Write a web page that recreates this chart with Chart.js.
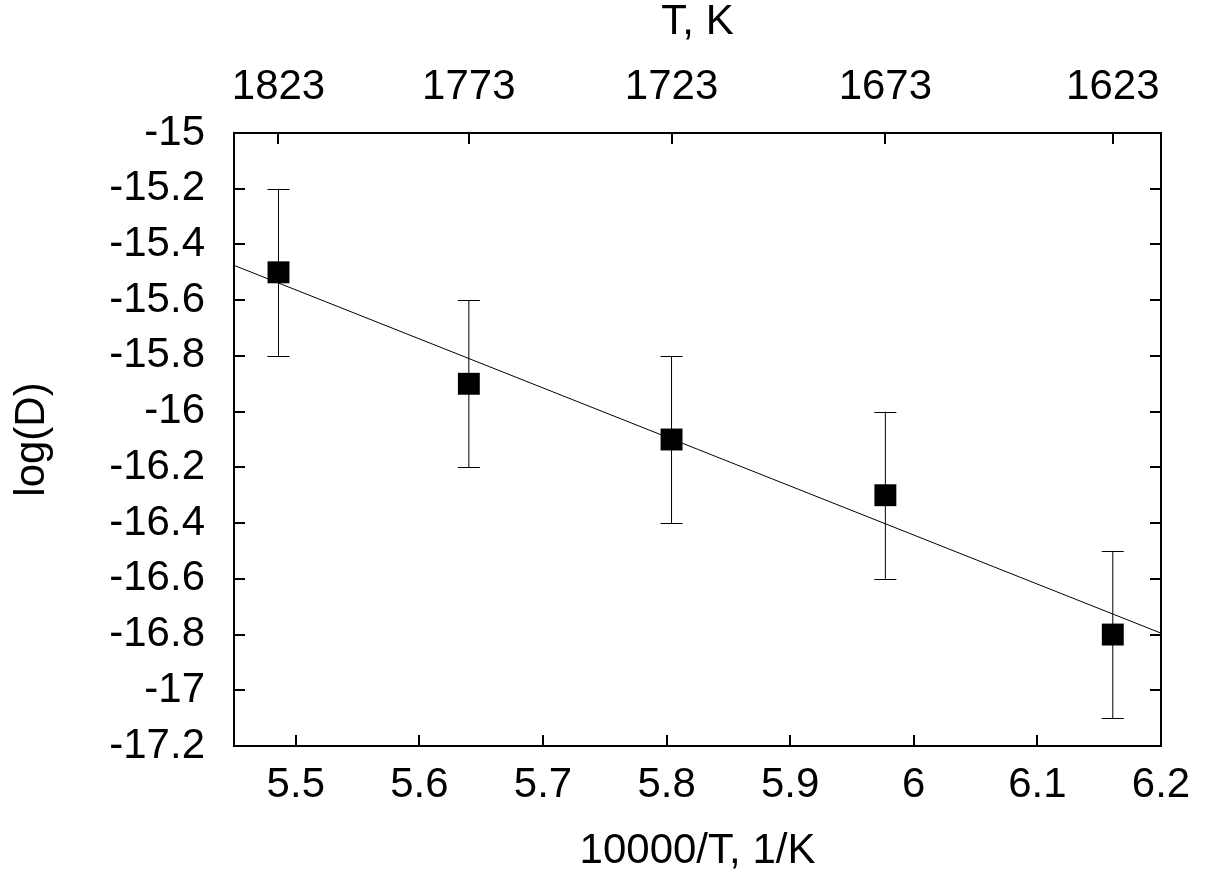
<!DOCTYPE html>
<html>
<head>
<meta charset="utf-8">
<script src="https://cdn.jsdelivr.net/npm/chart.js@4.4.1/dist/chart.umd.min.js"></script>
<style>
  html, body { margin: 0; padding: 0; background: #fff; }
  #wrap { width: 1205px; height: 880px; }
</style>
</head>
<body>
<div id="wrap"><canvas id="diffusion-chart" width="1205" height="880"></canvas></div>
<script>
// measured points
var tempK = [1823, 1773, 1723, 1673, 1623];
var invT = [5.486, 5.640, 5.804, 5.977, 6.161];
var logD = [-15.5, -15.9, -16.1, -16.3, -16.8];
var logDErr = [0.3, 0.3, 0.3, 0.3, 0.3];

// linear fit, end points at the frame edges
var fitX = [5.45, 6.2];
var fitY = [-15.475, -16.795];

// axis ticks
var xTicks = [5.5, 5.6, 5.7, 5.8, 5.9, 6.0, 6.1, 6.2];
var yTicks = [-15, -15.2, -15.4, -15.6, -15.8, -16, -16.2, -16.4, -16.6, -16.8, -17, -17.2];

var FONT = 'Liberation Sans, Arial, sans-serif';

function fmt(v) {
    return String(Math.round(v * 10) / 10);
}

// frame, inward ticks and error bars
var framePlugin = {
    id: 'frame',
    afterDatasetsDraw: function(chart) {
        var ctx = chart.ctx;
        var a = chart.chartArea;
        var xs = chart.scales.x, ys = chart.scales.y, xt = chart.scales.x2;
        var tl = 11;

        ctx.save();
        // error bars
        ctx.strokeStyle = '#000';
        ctx.lineWidth = 1;
        for (var i = 0; i < invT.length; i++) {
            var px = xs.getPixelForValue(invT[i]);
            var y1 = ys.getPixelForValue(logD[i] + logDErr[i]);
            var y2 = ys.getPixelForValue(logD[i] - logDErr[i]);
            ctx.beginPath();
            ctx.moveTo(px, y1); ctx.lineTo(px, y2);
            ctx.moveTo(px - 11, Math.round(y1) + 0.5); ctx.lineTo(px + 11, Math.round(y1) + 0.5);
            ctx.moveTo(px - 11, Math.round(y2) + 0.5); ctx.lineTo(px + 11, Math.round(y2) + 0.5);
            ctx.stroke();
        }

        ctx.strokeStyle = '#000';
        ctx.lineWidth = 2;
        ctx.beginPath();
        xTicks.forEach(function(v) {
            var p = Math.round(xs.getPixelForValue(v));
            ctx.moveTo(p, a.bottom); ctx.lineTo(p, a.bottom - tl);
        });
        invT.forEach(function(v) {
            var p = Math.round(xt.getPixelForValue(v));
            ctx.moveTo(p, a.top); ctx.lineTo(p, a.top + tl);
        });
        yTicks.forEach(function(v) {
            var p = Math.round(ys.getPixelForValue(v));
            ctx.moveTo(a.left, p); ctx.lineTo(a.left + tl, p);
            ctx.moveTo(a.right, p); ctx.lineTo(a.right - tl, p);
        });
        ctx.stroke();
        ctx.strokeRect(a.left, a.top, a.right - a.left, a.bottom - a.top);
        ctx.restore();
    }
};

var ctx = document.getElementById('diffusion-chart').getContext('2d');

new Chart(ctx, {
    data: {
        datasets: [{
            type: 'line',
            label: 'fit',
            data: fitX.map(function(x, i) { return { x: x, y: fitY[i] }; }),
            borderColor: '#000',
            borderWidth: 1,
            pointRadius: 0,
            fill: false,
            order: 2
        }, {
            type: 'scatter',
            label: 'log(D)',
            data: invT.map(function(x, i) { return { x: x, y: logD[i] }; }),
            pointStyle: 'rect',
            pointRadius: 15.5,
            backgroundColor: '#000',
            borderColor: '#000',
            borderWidth: 0,
            order: 1
        }]
    },
    options: {
        responsive: false,
        animation: false,
        events: [],
        layout: { padding: { left: 0, right: 44, top: 0, bottom: 0 } },
        plugins: {
            legend: { display: false },
            tooltip: { enabled: false }
        },
        scales: {
            x: {
                type: 'linear',
                position: 'bottom',
                min: 5.45,
                max: 6.2,
                afterBuildTicks: function(s) { s.ticks = xTicks.map(function(v) { return { value: v }; }); },
                afterFit: function(s) { s.height = 134; },
                grid: { display: false, drawTicks: false },
                border: { display: false },
                ticks: {
                    color: '#000',
                    font: { family: FONT, size: 42 },
                    padding: 14,
                    maxRotation: 0,
                    autoSkip: false,
                    callback: function(v) { return fmt(v); }
                },
                title: {
                    display: true,
                    text: '10000/T, 1/K',
                    color: '#000',
                    font: { family: FONT, size: 42 },
                    padding: { top: 0, bottom: 3 }
                }
            },
            x2: {
                type: 'linear',
                position: 'top',
                min: 5.45,
                max: 6.2,
                afterBuildTicks: function(s) { s.ticks = invT.map(function(v) { return { value: v }; }); },
                afterFit: function(s) { s.height = 133; },
                grid: { display: false, drawTicks: false },
                border: { display: false },
                ticks: {
                    color: '#000',
                    font: { family: FONT, size: 42 },
                    padding: 20,
                    maxRotation: 0,
                    autoSkip: false,
                    callback: function(v, i) { return String(tempK[i]); }
                },
                title: {
                    display: true,
                    text: 'T, K',
                    color: '#000',
                    font: { family: FONT, size: 42 },
                    padding: { top: -3, bottom: 0 }
                }
            },
            y: {
                type: 'linear',
                position: 'left',
                min: -17.2,
                max: -15,
                afterBuildTicks: function(s) { s.ticks = yTicks.map(function(v) { return { value: v }; }); },
                afterFit: function(s) { s.width = 234; },
                grid: { display: false, drawTicks: false },
                border: { display: false },
                ticks: {
                    color: '#000',
                    font: { family: FONT, size: 42 },
                    padding: 29,
                    autoSkip: false,
                    callback: function(v) { return fmt(v); }
                },
                title: {
                    display: true,
                    text: 'log(D)',
                    color: '#000',
                    font: { family: FONT, size: 42 },
                    padding: { top: 7, bottom: 0 }
                }
            }
        }
    },
    plugins: [framePlugin]
});
</script>
</body>
</html>
